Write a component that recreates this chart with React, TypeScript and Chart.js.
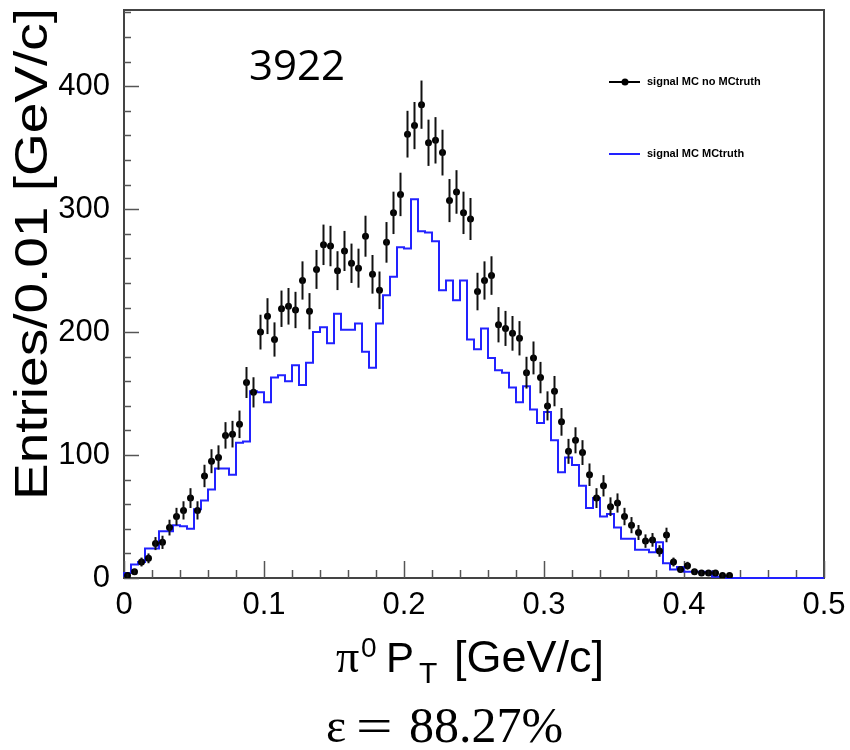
import React, { useEffect, useRef } from 'react';
import { Chart, registerables } from 'chart.js';

Chart.register(...registerables);

// Histogram binning (pi0 PT, GeV/c)
const BIN_WIDTH = 0.005;
const N_BINS = 100;
const X_MIN = 0;
const X_MAX = 0.5;
const Y_MIN = 0;
const Y_MAX = 462;

// "signal MC no MCtruth" (black points), bins 1..87
const signalNoTruth = [
  2, 5, 13, 16, 28, 29, 41, 50, 55, 65,
  55, 83, 95, 98, 116, 117, 125, 159, 151, 200,
  213, 194, 219, 221, 218, 242, 217, 251, 271, 270,
  250, 266, 256, 252, 278, 247, 234, 273, 297, 312,
  361, 368, 385, 354, 356, 346, 307, 314, 297, 292,
  233, 242, 246, 206, 203, 199, 195, 167, 179, 163,
  140, 152, 127, 103, 112, 102, 84, 65, 75, 58,
  61, 50, 43, 37, 30, 31, 22, 35, 13, 7,
  10, 5, 4, 4, 4, 2, 2,
];

// "signal MC MCtruth" (blue histogram), bins 1..87 (rest empty)
const signalTruth = [
  1, 4, 11, 13, 24, 24, 38, 38, 43, 42,
  40, 56, 63, 72, 89, 89, 84, 110, 111, 152,
  151, 143, 163, 165, 160, 173, 157, 175, 200, 204,
  191, 215, 202, 202, 207, 184, 171, 207, 230, 245,
  269, 268, 308, 282, 281, 274, 234, 242, 226, 242,
  194, 186, 203, 179, 169, 167, 155, 143, 156, 137,
  126, 135, 112, 86, 98, 92, 75, 57, 65, 50,
  52, 41, 32, 32, 23, 23, 21, 29, 12, 7,
  9, 5, 5, 5, 5, 1, 1,
];

const xTickValues = [0, 0.1, 0.2, 0.3, 0.4, 0.5];
const xTickLabels = ['0', '0.1', '0.2', '0.3', '0.4', '0.5'];
const xMinorStep = 0.02;
const yTickValues = [0, 100, 200, 300, 400];
const yTickLabels = ['0', '100', '200', '300', '400'];
const yMinorStep = 20;

const legendLabels = ['signal MC no MCtruth', 'signal MC MCtruth'];
const yTitle = 'Entries/0.01 [GeV/c]';
const countText = '3922';
const effText = '88.27%';

const SANS = '"Liberation Sans", Arial, Helvetica, sans-serif';
const SERIF = '"Liberation Serif", "Times New Roman", serif';

const rootPlugin = {
  id: 'rootStyle',
  beforeDatasetsDraw(chart: any) {
    const { ctx, chartArea: a, scales } = chart;
    const xs = scales.x;
    const ys = scales.y;
    ctx.save();
    // frame
    ctx.strokeStyle = '#444';
    ctx.lineWidth = 2;
    ctx.strokeRect(a.left, a.top, a.right - a.left, a.bottom - a.top);
    // ticks (inside frame)
    ctx.strokeStyle = '#555';
    ctx.lineWidth = 1.5;
    const nx = Math.round((X_MAX - X_MIN) / xMinorStep);
    for (let i = 0; i <= nx; i++) {
      const v = X_MIN + i * xMinorStep;
      const major = xTickValues.some((t) => Math.abs(t - v) < 1e-9);
      const px = Math.round(xs.getPixelForValue(v)) + 0.5;
      ctx.beginPath();
      ctx.moveTo(px, a.bottom);
      ctx.lineTo(px, a.bottom - (major ? 17 : 8));
      ctx.stroke();
    }
    const ny = Math.floor((Y_MAX - Y_MIN) / yMinorStep);
    for (let i = 0; i <= ny; i++) {
      const v = Y_MIN + i * yMinorStep;
      const major = yTickValues.includes(v);
      const py = Math.round(ys.getPixelForValue(v)) + 0.5;
      ctx.beginPath();
      ctx.moveTo(a.left, py);
      ctx.lineTo(a.left + (major ? 15 : 7), py);
      ctx.stroke();
    }
    ctx.restore();
  },
  afterDatasetsDraw(chart: any) {
    const { ctx, scales } = chart;
    const xs = scales.x;
    const ys = scales.y;
    ctx.save();
    // Poisson error bars on the black points
    ctx.strokeStyle = '#111';
    ctx.lineWidth = 2;
    signalNoTruth.forEach((v, i) => {
      if (v <= 0) return;
      const err = Math.sqrt(v);
      const px = xs.getPixelForValue((i + 0.5) * BIN_WIDTH);
      ctx.beginPath();
      ctx.moveTo(px, ys.getPixelForValue(v - err));
      ctx.lineTo(px, ys.getPixelForValue(v + err));
      ctx.stroke();
    });
    ctx.restore();
  },
  afterDraw(chart: any) {
    const { ctx } = chart;
    ctx.save();
    ctx.fillStyle = '#000';
    ctx.textBaseline = 'alphabetic';
    ctx.textAlign = 'left';

    // Y title (rotated)
    ctx.save();
    ctx.translate(47, 500);
    ctx.rotate(-Math.PI / 2);
    ctx.scale(1.17, 1);
    ctx.font = `47px ${SANS}`;
    ctx.fillText(yTitle, 0, 0);
    ctx.restore();

    // X title: π0 PT [GeV/c]
    ctx.font = `46px ${SERIF}`;
    ctx.fillText('\u03c0', 336, 672);
    ctx.font = `28px ${SANS}`;
    ctx.fillText('0', 361, 657);
    ctx.font = `42px ${SANS}`;
    ctx.fillText('P', 386, 672);
    ctx.font = `30px ${SANS}`;
    ctx.fillText('T', 419, 683);
    ctx.font = `45px ${SANS}`;
    ctx.fillText('[GeV/c]', 454, 672);

    // efficiency
    ctx.font = `48px ${SERIF}`;
    ctx.fillText('\u03b5', 326, 742);
    ctx.save();
    ctx.translate(356, 742);
    ctx.scale(1.35, 1);
    ctx.font = `48px ${SERIF}`;
    ctx.fillText('=', 0, 0);
    ctx.restore();
    ctx.font = `50px ${SERIF}`;
    ctx.fillText(effText, 409, 742);

    // count label
    ctx.font = `42px "Open Sans", ${SANS}`;
    ctx.fillText(countText, 249, 80);

    // legend
    ctx.font = `bold 11px ${SANS}`;
    ctx.textBaseline = 'middle';
    ctx.strokeStyle = '#000';
    ctx.lineWidth = 2;
    ctx.beginPath();
    ctx.moveTo(609, 82);
    ctx.lineTo(640, 82);
    ctx.stroke();
    ctx.beginPath();
    ctx.arc(625, 82, 3.5, 0, Math.PI * 2);
    ctx.fill();
    ctx.fillText(legendLabels[0], 647, 82);

    ctx.strokeStyle = '#2222ff';
    ctx.beginPath();
    ctx.moveTo(609, 154);
    ctx.lineTo(640, 154);
    ctx.stroke();
    ctx.fillText(legendLabels[1], 647, 154);
    ctx.restore();
  },
};

export default function App() {
  const canvasRef = useRef<HTMLCanvasElement | null>(null);

  useEffect(() => {
    if (!canvasRef.current) return;

    const histPoints: { x: number; y: number }[] = [];
    for (let i = 0; i < N_BINS; i++) {
      histPoints.push({ x: i * BIN_WIDTH, y: signalTruth[i] ?? 0 });
    }
    histPoints.push({ x: N_BINS * BIN_WIDTH, y: 0 });

    const dataPoints = signalNoTruth
      .map((v, i) => ({ x: (i + 0.5) * BIN_WIDTH, y: v }))
      .filter((p) => p.y > 0);

    const chart = new Chart(canvasRef.current, {
      type: 'scatter',
      data: {
        datasets: [
          {
            label: legendLabels[0],
            data: dataPoints,
            showLine: false,
            pointRadius: 3.5,
            pointHoverRadius: 3.5,
            pointBackgroundColor: '#000',
            pointBorderWidth: 0,
            order: 0,
          },
          {
            label: legendLabels[1],
            data: histPoints,
            showLine: true,
            stepped: 'after',
            borderColor: '#2222ff',
            borderWidth: 2,
            pointRadius: 0,
            fill: false,
            clip: false as any,
            order: 1,
          } as any,
        ],
      },
      options: {
        responsive: false,
        animation: false,
        devicePixelRatio: 1,
        layout: { padding: { left: 0, right: 26, top: 10, bottom: 0 } },
        plugins: {
          legend: { display: false },
          tooltip: { enabled: false },
        },
        events: [],
        scales: {
          x: {
            type: 'linear',
            min: X_MIN,
            max: X_MAX,
            grid: { display: false, drawTicks: false },
            border: { display: false },
            afterBuildTicks: (scale: any) => {
              scale.ticks = xTickValues.map((v) => ({ value: v }));
            },
            afterFit: (scale: any) => {
              scale.height = 172;
              scale.paddingLeft = 0;
              scale.paddingRight = 0;
            },
            ticks: {
              autoSkip: false,
              maxRotation: 0,
              padding: 9,
              color: '#000',
              font: { family: SANS, size: 31 },
              callback: (_v: any, idx: number) => xTickLabels[idx],
            },
          },
          y: {
            type: 'linear',
            min: Y_MIN,
            max: Y_MAX,
            grid: { display: false, drawTicks: false },
            border: { display: false },
            afterBuildTicks: (scale: any) => {
              scale.ticks = yTickValues.map((v) => ({ value: v }));
            },
            afterFit: (scale: any) => {
              scale.width = 124;
              scale.paddingTop = 0;
              scale.paddingBottom = 0;
            },
            ticks: {
              autoSkip: false,
              padding: 14,
              color: '#000',
              font: { family: SANS, size: 31 },
              callback: (_v: any, idx: number) => yTickLabels[idx],
            },
          },
        },
      },
      plugins: [rootPlugin],
    });

    return () => chart.destroy();
  }, []);

  return (
    <div style={{ position: 'fixed', left: 0, top: 0, width: 850, height: 750, background: '#fff' }}>
      <canvas ref={canvasRef} width={850} height={750} style={{ width: 850, height: 750, display: 'block' }} />
    </div>
  );
}
